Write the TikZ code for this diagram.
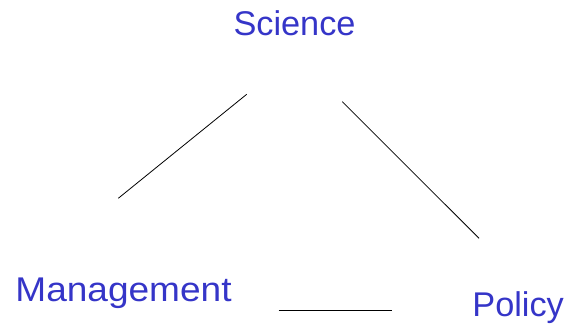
\documentclass[tikz,border=0pt]{standalone}
\usepackage{fontspec}
\setmainfont{Liberation Sans}
\definecolor{lbl}{HTML}{3535C8}
\begin{document}
\begin{tikzpicture}[x=1pt,y=1pt,
  label/.style={inner sep=0pt,anchor=base west,text=lbl,font=\fontsize{34.3}{38}\selectfont},
  link/.style={draw=black,line width=0.8pt}]
\useasboundingbox (0,0) rectangle (571,331);
\node[label] (sci) at (233.3,295) {Science};
\node[label] (man) at (15.2,29) {\scalebox{1.08}[1]{Management}};
\node[label] (pol) at (472.2,14) {Policy};
\coordinate (s1) at (246.7,236.7);
\coordinate (m1) at (118.3,132.7);
\coordinate (s2) at (342.3,229.3);
\coordinate (p1) at (479,92.7);
\coordinate (m2) at (278.5,20.5);
\coordinate (p2) at (391.5,20.5);
\draw[link] (s1) -- (m1);
\draw[link] (s2) -- (p1);
\draw[link] (m2) -- (p2);
\end{tikzpicture}
\end{document}
